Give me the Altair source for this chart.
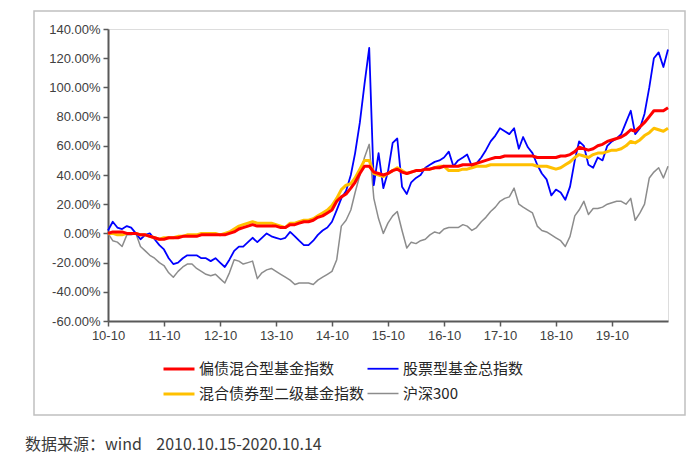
import pandas as pd
import altair as alt

# %% data: monthly readings (%), Oct 2010 .. Oct 2020
series_names = ["偏债混合型基金指数", "股票型基金总指数", "混合债券型二级基金指数", "沪深300"]
series_colors = ["#FF0000", "#0000FF", "#FFC000", "#8C8C8C"]
series_widths = [3, 1.8, 3, 1.5]

dates = pd.date_range("2010-10-01", periods=121, freq="MS") + pd.Timedelta(days=14)

pianzhai = [
    0, 1, 1, 1, 0, 0, 0, -1, -1, -2,
    -3, -4, -4, -3, -3, -3, -2, -2, -2, -2,
    -1, -1, -1, -1, -1, -1, 0, 1, 3, 4,
    5, 6, 5, 5, 5, 5, 5, 4, 4, 6,
    6, 7, 8, 8, 9, 11, 12, 14, 16, 22,
    25, 27, 31, 35, 41, 46, 46, 42, 41, 40,
    41, 43, 44, 42, 41, 42, 43, 43, 44, 44,
    45, 45, 46, 46, 46, 46, 47, 47, 47, 48,
    49, 50, 51, 52, 52, 53, 53, 53, 53, 53,
    53, 53, 52, 52, 52, 52, 52, 53, 53, 54,
    56, 59, 58, 57, 58, 60, 61, 63, 64, 65,
    66, 68, 71, 70, 73, 76, 80, 84, 84, 84,
    86,
]
gupiao = [
    2, 8, 4, 3, 5, 4, 0, -4, -1, 0,
    -4, -8, -11, -17, -21, -20, -17, -15, -15, -15,
    -17, -17, -19, -17, -20, -23, -18, -12, -9, -9,
    -6, -3, -6, -3, 0, -2, -3, -4, -3, 1,
    -2, -5, -8, -8, -5, -1, 2, 4, 8, 16,
    24, 29, 40, 55, 76, 102, 127, 33, 55, 31,
    42, 62, 65, 32, 27, 35, 38, 40, 45, 47,
    49, 50, 52, 56, 46, 50, 52, 54, 46, 48,
    52, 57, 63, 67, 72, 70, 68, 72, 58, 66,
    59, 55, 47, 41, 37, 26, 30, 28, 23, 32,
    50, 63, 60, 47, 45, 52, 50, 60, 63, 65,
    68, 76, 84, 68, 72, 82, 100, 120, 124, 114,
    126,
]
erji = [
    0, 0, -1, -1, 0, 0, 0, -1, -1, -2,
    -3, -4, -3, -3, -3, -2, -2, -1, -1, -1,
    0, 0, 0, 0, -1, 0, 1, 3, 5, 6,
    7, 8, 7, 7, 7, 7, 6, 5, 4, 7,
    7, 8, 9, 9, 10, 12, 14, 16, 19, 24,
    30, 33, 34, 38, 44, 50, 50, 41, 40, 39,
    41, 43, 45, 43, 41, 42, 43, 43, 44, 44,
    45, 46, 46, 43, 43, 43, 44, 44, 45, 46,
    46, 46, 47, 47, 47, 47, 47, 47, 47, 47,
    47, 47, 46, 46, 46, 45, 44, 45, 47, 49,
    52, 54, 53, 52, 54, 55, 55, 56, 57, 57,
    58, 60, 63, 62, 64, 67, 69, 72, 71, 70,
    72,
]
hs300 = [
    0, -5, -6, -9, -1, -1, 0, -9, -12, -15,
    -17, -20, -22, -27, -30, -26, -23, -21, -21, -24,
    -26, -28, -29, -28, -31, -34, -27, -18, -19, -21,
    -20, -19, -31, -27, -25, -24, -26, -28, -30, -32,
    -35, -34, -34, -34, -35, -32, -30, -28, -26, -18,
    5, 9, 16, 28, 40, 52, 61, 24, 10, 0,
    7, 12, 15, 2, -10, -6, -7, -5, -4, -1,
    1, 0, 3, 4, 4, 4, 6, 5, 2, 4,
    8, 11, 15, 18, 22, 24, 25, 31, 20, 18,
    16, 14, 5, 2, 1, -1, -3, -5, -9, -2,
    12, 16, 22, 13, 17, 17, 18, 20, 21, 22,
    22, 20, 24, 9, 14, 20, 38, 42, 45, 38,
    46,
]

y_ticks = [v / 100 for v in range(-60, 141, 20)]
x_tick_years = list(range(2010, 2020))
caption = "数据来源：wind\u00a0\u00a0\u00a0\u00a02010.10.15-2020.10.14"

# %% long table
frames = []
for name, vals in zip(series_names, [pianzhai, gupiao, erji, hs300]):
    frames.append(pd.DataFrame({"date": dates, "series": name, "value": [v / 100 for v in vals]}))
df = pd.concat(frames, ignore_index=True)

# %% chart
axis_style = dict(
    title=None, grid=False, domainColor="#595959", domainWidth=2,
    tickColor="#595959", tickWidth=1.5, tickSize=5,
    labelFont="Liberation Sans", labelFontSize=13, labelColor="#404040",
    labelPadding=3, labelFlush=False,
)

legend_style = dict(
    title=None, orient="none", legendX=54, legendY=323, columns=2, direction="horizontal",
    symbolType="stroke", symbolSize=961, labelOffset=3, columnPadding=-2, rowPadding=0,
    labelFont="Noto Sans CJK SC", labelFontSize=15, labelColor="#262626", labelLimit=300,
    padding=0,
)

x_enc = alt.X(
    "date:T",
    scale=alt.Scale(
        domain=[alt.DateTime(year=2010, month=10, date=15), alt.DateTime(year=2020, month=10, date=15)],
        nice=False,
    ),
    axis=alt.Axis(
        values=[alt.DateTime(year=y, month=10, date=15) for y in x_tick_years],
        format="%y-%m", **axis_style,
    ),
)
y_enc = alt.Y(
    "value:Q",
    scale=alt.Scale(domain=[-0.6, 1.4], nice=False, zero=False),
    axis=alt.Axis(
        values=y_ticks,
        labelExpr="replace(format(datum.value, '.2%'), '\u2212', '-')",
        **axis_style,
    ),
)

base = alt.Chart(df).mark_line(strokeJoin="round").encode(
    x=x_enc,
    y=y_enc,
    color=alt.Color("series:N", scale=alt.Scale(domain=series_names, range=series_colors),
                    legend=alt.Legend(**legend_style)),
    strokeWidth=alt.StrokeWidth(
        "series:N",
        scale=alt.Scale(type="ordinal", domain=series_names, range=series_widths),
        legend=alt.Legend(**legend_style),
    ),
)

# draw order: grey at the bottom, red on top
draw_order = ["沪深300", "股票型基金总指数", "混合债券型二级基金指数", "偏债混合型基金指数"]
lines = [base.transform_filter(alt.datum.series == n) for n in draw_order]

one = pd.DataFrame({"k": [0]})
frame = alt.Chart(one).mark_rect(fill=None, stroke="#c0c0c0", strokeWidth=1.5).encode(
    x=alt.value(-74), x2=alt.value(577), y=alt.value(-18), y2=alt.value(386)
)
note = alt.Chart(one).mark_text(
    align="left", baseline="middle", font="Noto Sans CJK SC", fontSize=16, color="#3a3a3a"
).encode(x=alt.value(-83), y=alt.value(416), text=alt.value(caption))

chart = (
    alt.layer(frame, *lines, note)
    .properties(
        width=560, height=292,
        padding={"left": 100, "top": 21, "right": 24, "bottom": 134},
        autosize=alt.AutoSizeParams(type="none"),
    )
    .configure_view(stroke=None)
    .configure(background="white")
)

chart.save("out.html", embed_options={"renderer": "svg", "actions": False})
